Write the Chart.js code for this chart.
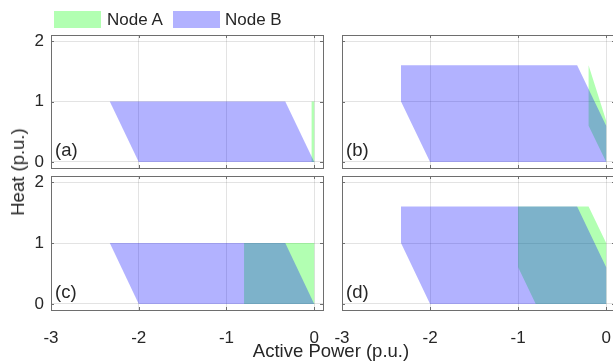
<!DOCTYPE html>
<html>
<head>
<meta charset="utf-8">
<script src="https://cdn.jsdelivr.net/npm/chart.js@4.4.1/dist/chart.umd.min.js"></script>
<style>
  html, body { margin: 0; padding: 0; width: 613px; height: 362px; overflow: hidden; background: #fff; }
  body { position: relative; font-family: "Liberation Sans", Arial, sans-serif; color: #262626; }
  .panel { position: absolute; left: 0; top: 0; width: 620px; height: 362px; }
  .legend { position: absolute; top: 11px; height: 17px; }
  .swatch { position: absolute; top: 0; width: 47px; height: 17px; }
  .legend span { position: absolute; top: -1px; font-size: 17px; line-height: 19px; white-space: nowrap; }
  #ytitle { position: absolute; left: 18px; top: 172px; transform: translate(-50%, -50%) rotate(-90deg); font-size: 18.5px; white-space: nowrap; }
  #xtitle { position: absolute; left: 331px; top: 351px; transform: translate(-50%, -50%); font-size: 18.5px; white-space: nowrap; }
</style>
</head>
<body>
<div class="panel"><canvas id="pa"></canvas></div>
<div class="panel"><canvas id="pb"></canvas></div>
<div class="panel"><canvas id="pc"></canvas></div>
<div class="panel"><canvas id="pd"></canvas></div>
<div class="legend" style="left:54px">
  <div class="swatch" id="swA" style="left:0"></div><span style="left:53px">Node A</span>
  <div class="swatch" id="swB" style="left:119px"></div><span style="left:171px">Node B</span>
</div>
<div id="ytitle">Heat (p.u.)</div>
<div id="xtitle">Active Power (p.u.)</div>
<script>
"use strict";

const xTicks = [-3, -2, -1, 0];
const yTicks = [0, 1, 2];
const seriesNames = ["Node A", "Node B"];

// feasible regions as polygon vertices: active power (p.u.), heat (p.u.)
const aNodeA_P = [-0.03, 0, 0, -0.03];
const aNodeA_H = [0, 0, 1, 1];
const aNodeB_P = [-2.33, -0.33, 0, -2];
const aNodeB_H = [1, 1, 0, 0];

const bNodeA_P = [-0.2, 0, 0, -0.2];
const bNodeA_H = [1.6, 0.68, 0, 0.6];
const bNodeB_P = [-2.33, -0.33, 0, 0, -2, -2.33];
const bNodeB_H = [1.6, 1.6, 0.6, 0, 0, 1];

const cNodeA_P = [-0.8, 0, 0, -0.8];
const cNodeA_H = [1, 1, 0, 0];
const cNodeB_P = [-2.33, -0.33, 0, -2];
const cNodeB_H = [1, 1, 0, 0];

const dNodeA_P = [-1, -0.2, 0, 0, -0.8, -1];
const dNodeA_H = [1.6, 1.6, 1, 0, 0, 0.6];
const dNodeB_P = [-2.33, -0.33, 0, 0, -2, -2.33];
const dNodeB_H = [1.6, 1.6, 0.6, 0, 0, 1];

const colorA = "rgba(0, 255, 0, 0.3)";
const colorB = "rgba(0, 0, 255, 0.3)";
const textColor = "#262626";
const font = { family: "'Liberation Sans', Arial, sans-serif", size: 17 };

document.getElementById("swA").style.background = colorA;
document.getElementById("swB").style.background = colorB;

const toPoints = (P, H) => P.map((p, i) => ({ x: p, y: H[i] }));

// full box with inward ticks on all four sides, plus the panel tag
const boxPlugin = {
  id: "boxFrame",
  afterDatasetsDraw(chart, args, opts) {
    const { ctx, chartArea: a, scales: { x, y } } = chart;
    ctx.save();
    ctx.strokeStyle = "#6e6e6e";
    ctx.lineWidth = 1;
    ctx.beginPath();
    for (const v of xTicks) {
      const px = Math.round(x.getPixelForValue(v)) + 0.5;
      ctx.moveTo(px, a.bottom); ctx.lineTo(px, a.bottom - 3);
      ctx.moveTo(px, a.top); ctx.lineTo(px, a.top + 3);
    }
    for (const v of yTicks) {
      const py = Math.round(y.getPixelForValue(v)) + 0.5;
      ctx.moveTo(a.left, py); ctx.lineTo(a.left + 3, py);
      ctx.moveTo(a.right, py); ctx.lineTo(a.right - 3, py);
    }
    ctx.stroke();
    ctx.strokeRect(Math.round(a.left) + 0.5, Math.round(a.top) + 0.5,
      Math.round(a.right - a.left), Math.round(a.bottom - a.top));
    ctx.fillStyle = textColor;
    ctx.font = `18.5px ${font.family}`;
    ctx.textBaseline = "alphabetic";
    ctx.fillText(opts.label, a.left + 4, a.bottom - 12);
    ctx.restore();
  },
};

function makePanel(id, box, nodeA, nodeB, label, showX, showY) {
  const yW = showY ? 30 : 0;
  const xH = showX ? 36 : 0;
  const region = (name, pts, color, order) => ({
    label: name,
    data: pts,
    backgroundColor: color,
    borderColor: "rgba(0,0,0,0)",
    borderWidth: 0,
    pointRadius: 0,
    tension: 0,
    fill: "shape",
    order,
  });
  return new Chart(document.getElementById(id), {
    type: "line",
    data: {
      datasets: [
        region(seriesNames[0], nodeA, colorA, 1),
        region(seriesNames[1], nodeB, colorB, 0),
      ],
    },
    options: {
      responsive: true,
      maintainAspectRatio: false,
      animation: false,
      events: [],
      layout: {
        padding: {
          left: box.left - yW,
          top: box.top,
          right: 620 - box.right,
          bottom: 362 - box.bottom - xH,
        },
      },
      plugins: {
        legend: { display: false },
        tooltip: { enabled: false },
        boxFrame: { label },
      },
      scales: {
        x: {
          type: "linear",
          min: -3,
          max: 0.1,
          afterBuildTicks: s => { s.ticks = xTicks.map(v => ({ value: v })); },
          afterFit: s => { s.height = xH; },
          // invisible tick marks push the labels down without widening the side padding
          grid: { color: "rgba(38,38,38,0.13)", drawTicks: true, tickLength: 14, tickColor: "rgba(0,0,0,0)" },
          border: { display: false },
          ticks: { display: showX, color: textColor, font, padding: 4 },
        },
        y: {
          type: "linear",
          min: -0.1,
          max: 2.1,
          afterBuildTicks: s => { s.ticks = yTicks.map(v => ({ value: v })); },
          afterFit: s => { s.width = yW; },
          grid: { color: "rgba(38,38,38,0.13)", drawTicks: false },
          border: { display: false },
          ticks: { display: showY, color: textColor, font, padding: 7 },
        },
      },
    },
    plugins: [boxPlugin],
  });
}

makePanel("pa", { left: 51, top: 35, right: 323, bottom: 168 },
  toPoints(aNodeA_P, aNodeA_H), toPoints(aNodeB_P, aNodeB_H), "(a)", false, true);
makePanel("pb", { left: 342, top: 35, right: 615, bottom: 168 },
  toPoints(bNodeA_P, bNodeA_H), toPoints(bNodeB_P, bNodeB_H), "(b)", false, false);
makePanel("pc", { left: 51, top: 176, right: 323, bottom: 310 },
  toPoints(cNodeA_P, cNodeA_H), toPoints(cNodeB_P, cNodeB_H), "(c)", true, true);
makePanel("pd", { left: 342, top: 176, right: 615, bottom: 310 },
  toPoints(dNodeA_P, dNodeA_H), toPoints(dNodeB_P, dNodeB_H), "(d)", true, false);
</script>
</body>
</html>
